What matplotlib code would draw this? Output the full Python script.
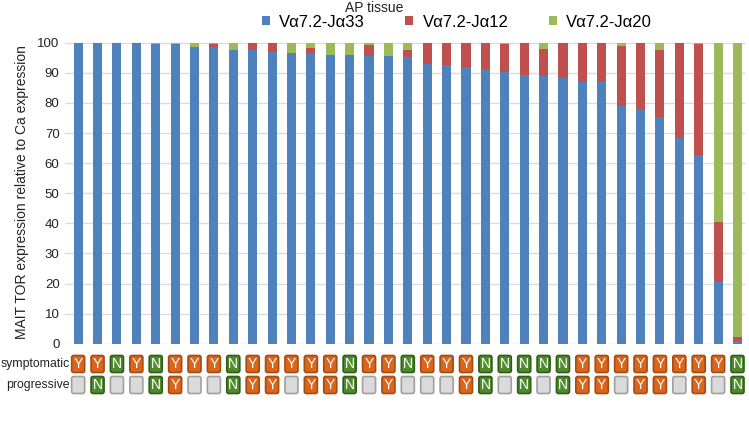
import matplotlib
matplotlib.use("Agg")
import matplotlib.pyplot as plt
from matplotlib.patches import FancyBboxPatch
import numpy as np

plt.rcParams['font.family'] = ['Liberation Sans', 'DejaVu Sans']

# Data (percent of Ca expression)
ja33 = [100, 100, 99.9, 99.5, 99.5, 99.5, 98.7, 98.4, 97.7, 97.4, 96.8, 96.6,
        96.6, 96.0, 96.0, 95.6, 95.5, 95.1, 92.8, 92.6, 91.8, 91.4, 90.4, 89.2,
        88.9, 88.1, 87.0, 86.8, 78.9, 77.5, 75.3, 68.2, 62.6, 20.5, 0.8]
ja12 = [0, 0, 0, 0.5, 0, 0, 0, 1.0, 0, 2.4, 3.2, 0,
        1.5, 0, 0, 3.6, 0, 2.4, 7.2, 7.4, 8.2, 8.6, 9.2, 10.8,
        9.1, 11.9, 13.0, 13.2, 20.1, 22.5, 22.2, 31.8, 36.9, 20.0, 1.4]
ja20 = [0, 0, 0.1, 0, 0.5, 0.5, 1.3, 0.6, 2.3, 0.2, 0, 3.4,
        1.9, 4.0, 4.0, 0.8, 4.5, 2.5, 0, 0, 0, 0, 0.4, 0,
        2.0, 0, 0, 0, 1.0, 0, 2.5, 0, 0.5, 59.5, 97.8]
symptomatic = list("YYNYNYYYNYYYYYNYYNYYYNNNNNYYYYYYYYN")
progressive = ['', 'N', '', '', 'N', 'Y', '', '', 'N', 'Y', 'Y', '',
               'Y', 'Y', 'N', '', 'Y', '', '', '', 'Y', 'N', '', 'N',
               '', 'N', 'Y', 'Y', '', 'Y', 'Y', '', 'Y', '', 'N']
labels = ['V\u03b17.2-J\u03b133', 'V\u03b17.2-J\u03b112', 'V\u03b17.2-J\u03b120']

c_blue, c_red, c_green = '#4f81bd', '#c0504d', '#9bbb59'
box_style = {'Y': ('#d9661c', '#a54c12'), 'N': ('#4f8a2d', '#2f5e18'),
             '': ('#dadada', '#a0a0a0')}

fig = plt.figure(figsize=(7.49, 4.24), dpi=100)
ax = fig.add_axes([0.087, 0.189, 0.908, 0.714])

x = np.arange(len(ja33))
w = 0.47
b1 = np.array(ja33)
b2 = b1 + np.array(ja12)
ax.bar(x, ja33, w, color=c_blue, label=labels[0], zorder=3)
ax.bar(x, ja12, w, bottom=b1, color=c_red, label=labels[1], zorder=3)
ax.bar(x, ja20, w, bottom=b2, color=c_green, label=labels[2], zorder=3)

ax.set_xlim(-0.67, len(x) - 0.6)
ax.set_ylim(0, 100.5)
ax.set_yticks(range(0, 101, 10))
ax.yaxis.grid(True, color='#dcdcdc', linewidth=1, zorder=0)
ax.set_xticks([])
ax.tick_params(axis='y', length=0, labelsize=9.5, pad=4, colors='#222222')
for s in ax.spines.values():
    s.set_visible(False)
ax.set_ylabel('MAIT TOR expression relative to Ca expression', fontsize=10,
              color='#222222', labelpad=6)

# Y/N annotation rows under the bars (boxes sized in pixels)
bw_px, bh_px = 13, 17
rows = [(symptomatic, 364), (progressive, 385)]
for vals, yp in rows:
    for xi, v in zip(x, vals):
        fc, ec = box_style[v]
        xp = ax.transData.transform((xi, 0))[0]
        ax.add_artist(FancyBboxPatch((xp - bw_px / 2, 424 - yp - bh_px / 2),
                                     bw_px, bh_px,
                                     boxstyle='round,pad=0,rounding_size=2',
                                     transform=None, facecolor=fc, edgecolor=ec,
                                     linewidth=1.2, clip_on=False, zorder=4))
        if v:
            ax.text(xp, 424 - yp, v, transform=None, ha='center', va='center',
                    color='white', fontsize=10, zorder=5)
fig.text(0.0935, 1 - 364 / 424, 'symptomatic', ha='right', va='center',
         fontsize=8.8, color='#222222')
fig.text(0.0935, 1 - 385 / 424, 'progressive', ha='right', va='center',
         fontsize=8.8, color='#222222')

fig.text(0.5, 0.982, 'AP tissue', ha='center', va='center', fontsize=10,
         color='#222222')
fig.legend(loc='center', bbox_to_anchor=(0.61, 0.948), ncol=3, frameon=False,
           fontsize=12, handlelength=0.5, handleheight=0.5,
           columnspacing=2.4, handletextpad=0.55)

fig.savefig('out.png', dpi=100)
